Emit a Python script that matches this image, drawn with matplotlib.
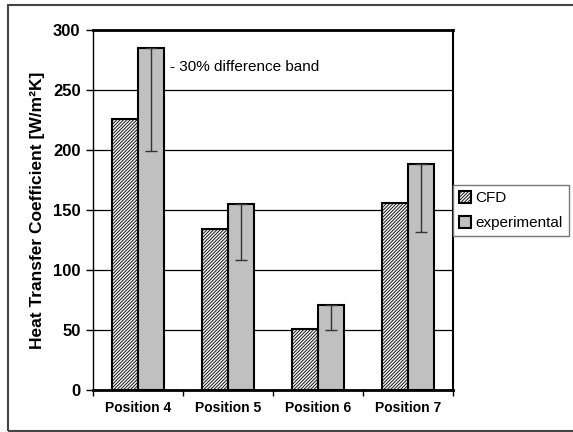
import numpy as np
import matplotlib
matplotlib.use('Agg')
import matplotlib.pyplot as plt
from matplotlib.patches import Rectangle

plt.rcParams['font.family'] = ['Liberation Sans', 'DejaVu Sans']
plt.rcParams['hatch.linewidth'] = 0.6

positions = ['Position 4', 'Position 5', 'Position 6', 'Position 7']
cfd = [226, 134, 51, 156]
experimental = [285, 155, 71, 188]
band = 0.30  # lower difference band on the measurements

exp = np.array(experimental)
err_low = exp * band

fig = plt.figure(figsize=(5.73, 4.32), dpi=100)
ax = fig.add_axes([93 / 573, 42 / 432, 360 / 573, 360 / 432])

x = np.arange(len(positions))
w = 0.29
ax.bar(x - w / 2, cfd, w, facecolor='#f0f0f0', edgecolor='black', linewidth=1.5,
       hatch='//////////', label='CFD', zorder=3)
ax.bar(x + w / 2, experimental, w, facecolor='#c0c0c0', edgecolor='black', linewidth=1.5,
       label='experimental', zorder=3)
ax.errorbar(x + w / 2, experimental, yerr=[err_low, np.zeros_like(err_low)],
            fmt='none', ecolor='#333333', elinewidth=1, capsize=4, capthick=1, zorder=4)

ax.text(0.356, 269, '- 30% difference band', fontsize=11, va='center',
        ha='left', zorder=5)

ax.set_ylim(0, 300)
ax.set_xlim(-0.5, 3.5)
ax.set_yticks(range(0, 301, 50))
ax.yaxis.grid(True, color='black', linewidth=0.9, zorder=0)
ax.set_axisbelow(True)

ax.set_xticks(x)
ax.set_xticklabels(positions, fontsize=10, fontweight='bold')
ax.set_xticks(np.arange(-0.5, 3.6, 1), minor=True)
ax.tick_params(axis='x', which='major', length=0, pad=8)
ax.tick_params(axis='x', which='minor', length=4, width=1, direction='out')
ax.tick_params(axis='y', length=5, width=1, direction='out', labelsize=12, pad=4)
for lab in ax.get_yticklabels():
    lab.set_fontweight('bold')

ax.set_ylabel('Heat Transfer Coefficient [W/m²K]', fontsize=12.5, fontweight='bold', labelpad=6)

ax.spines['left'].set_linewidth(1)
ax.spines['right'].set_linewidth(1.5)
ax.spines['top'].set_linewidth(2)
ax.spines['bottom'].set_linewidth(2)

ax.legend(loc='upper left', bbox_to_anchor=(453 / 573, (432 - 185) / 432),
          bbox_transform=fig.transFigure, borderaxespad=0, fontsize=11,
          frameon=True, fancybox=False, edgecolor='#777777', framealpha=1,
          handlelength=0.8, handleheight=0.8, handletextpad=0.27,
          borderpad=0.4, labelspacing=0.7)

fig.patches.append(Rectangle((8 / 573, 1.5 / 432), 1.0, 426 / 432, transform=fig.transFigure,
                             fill=False, edgecolor='#444444', linewidth=1.5))

fig.savefig('out.png', dpi=100)
